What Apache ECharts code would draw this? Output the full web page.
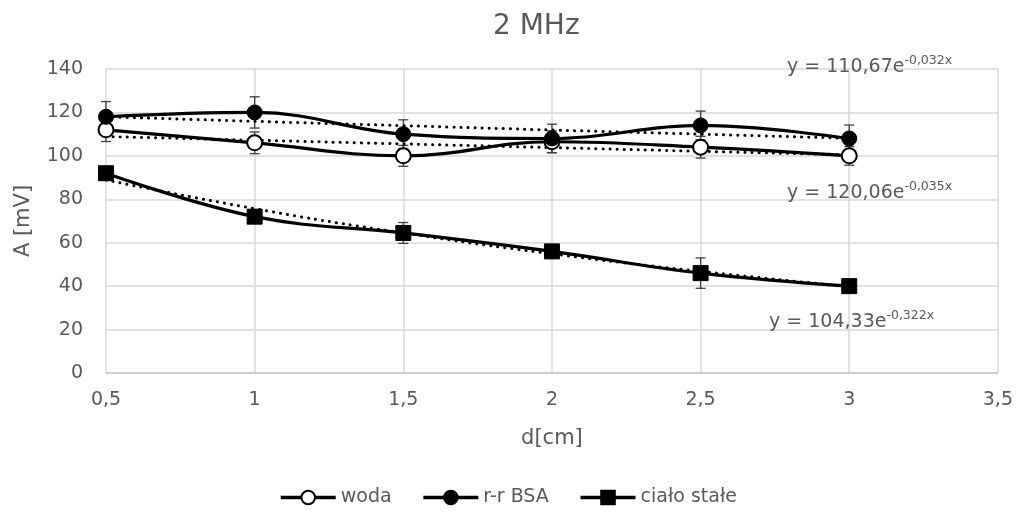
<!DOCTYPE html>
<html>
<head>
<meta charset="utf-8">
<script src="https://cdn.jsdelivr.net/npm/echarts@6/dist/echarts.min.js"></script>
<style>html,body{margin:0;padding:0;background:#fff}#c{width:1016px;height:523px}</style>
</head>
<body>
<div id="c"></div>
<script>
const xs = [0.5, 1, 1.5, 2, 2.5, 3];
const seriesNames = ['woda', 'r-r BSA', 'ciało stałe'];
const woda = [112, 106, 100, 106.5, 104, 100];
const bsa = [118, 120, 110, 108, 114, 108];
const cialo = [92, 72, 64.5, 56, 46, 40];
const wodaErr = [5.4, 5, 4.8, 5, 5, 4.3];
const bsaErr = [7, 7.2, 6.6, 6.6, 6.6, 6.2];
const cialoErr = [2, 2, 4.8, 2, 7, 1.5];
const wodaTrend = [108.9, 107.2, 105.5, 103.8, 102.1, 100.5];
const bsaTrend = [118.0, 115.9, 113.9, 111.9, 110.0, 108.1];
const cialoTrend = [88.9, 75.7, 64.5, 54.9, 46.8, 39.8];
const equations = [
  ['y = 110,67e', '-0,032x'],
  ['y = 120,06e', '-0,035x'],
  ['y = 104,33e', '-0,322x']
];
const xTicks = [0.5, 1, 1.5, 2, 2.5, 3, 3.5];
const yTicks = [0, 20, 40, 60, 80, 100, 120, 140];

const FONT = 'DejaVu Sans';
const GRAY = '#595959';
const pairs = (vals) => xs.map((x, i) => [x, vals[i]]);
const errData = (vals, errs) => xs.map((x, i) => [x, vals[i] - errs[i], vals[i] + errs[i]]);

function errRender(params, api) {
  const x = api.value(0);
  const lo = api.coord([x, api.value(1)]);
  const hi = api.coord([x, api.value(2)]);
  const w = 5;
  const st = { stroke: '#404040', lineWidth: 1.3 };
  return {
    type: 'group',
    children: [
      { type: 'line', shape: { x1: lo[0], y1: lo[1], x2: hi[0], y2: hi[1] }, style: st },
      { type: 'line', shape: { x1: lo[0] - w, y1: lo[1], x2: lo[0] + w, y2: lo[1] }, style: st },
      { type: 'line', shape: { x1: hi[0] - w, y1: hi[1], x2: hi[0] + w, y2: hi[1] }, style: st }
    ]
  };
}
function errSeries(vals, errs) {
  return { type: 'custom', renderItem: errRender, data: errData(vals, errs), z: 1, silent: true, encode: { x: 0, y: [1, 2] } };
}
function trendSeries(vals) {
  return {
    type: 'line', data: pairs(vals), smooth: true, symbol: 'none', silent: true, z: 2,
    lineStyle: { color: '#000', width: 3, type: [0.1, 7], cap: 'round' }
  };
}
function eqText(eq, left, top) {
  return {
    type: 'text', left: left, top: top, z: 10,
    style: {
      text: '{m|' + eq[0] + '}{s|' + eq[1] + '}',
      rich: {
        m: { fontFamily: FONT, fontSize: 19, fill: GRAY, color: GRAY },
        s: { fontFamily: FONT, fontSize: 12.5, fill: GRAY, color: GRAY, padding: [0, 0, 14, 0] }
      }
    }
  };
}

const chart = echarts.init(document.getElementById('c'));
chart.setOption({
  animation: false,
  textStyle: { fontFamily: FONT },
  title: {
    text: '2 MHz', left: 488, top: 8,
    textStyle: { fontFamily: FONT, fontSize: 28, fontWeight: 'normal', color: GRAY }
  },
  grid: { left: 106, right: 16, top: 69, bottom: 150, containLabel: false },
  xAxis: {
    type: 'value', min: 0.5, max: 3.5, interval: 0.5,
    name: 'd[cm]', nameLocation: 'middle', nameGap: 55,
    nameTextStyle: { fontFamily: FONT, fontSize: 21, color: GRAY },
    axisLine: { show: true, lineStyle: { color: '#c8c8c8', width: 1.5 } },
    axisTick: { show: false },
    splitLine: { show: true, lineStyle: { color: '#d9d9d9', width: 1.5 } },
    axisLabel: {
      fontFamily: FONT, fontSize: 19, color: GRAY, margin: 18,
      formatter: v => String(v).replace('.', ',')
    }
  },
  yAxis: {
    type: 'value', min: 0, max: 140, interval: 20,
    name: 'A [mV]', nameLocation: 'middle', nameGap: 72, nameRotate: 90,
    nameTextStyle: { fontFamily: FONT, fontSize: 21, color: GRAY },
    axisLine: { show: false }, axisTick: { show: false },
    splitLine: { show: true, lineStyle: { color: '#d9d9d9', width: 1.5 } },
    axisLabel: { fontFamily: FONT, fontSize: 19, color: GRAY, margin: 23 }
  },
  legend: {
    bottom: 11, left: 'center', itemWidth: 55, itemHeight: 17, itemGap: 30,
    data: seriesNames,
    lineStyle: { width: 3.5, color: '#000' },
    textStyle: { fontFamily: FONT, fontSize: 19, color: GRAY }
  },
  graphic: [
    eqText(equations[0], 787, 54),
    eqText(equations[1], 787, 180),
    eqText(equations[2], 769, 309)
  ],
  series: [
    trendSeries(wodaTrend), trendSeries(bsaTrend), trendSeries(cialoTrend),
    errSeries(woda, wodaErr), errSeries(bsa, bsaErr), errSeries(cialo, cialoErr),
    {
      name: seriesNames[0], type: 'line', data: pairs(woda), smooth: 0.4, z: 4,
      symbol: 'circle', symbolSize: 15,
      lineStyle: { color: '#000', width: 3.2 },
      itemStyle: { color: '#fff', borderColor: '#000', borderWidth: 2 }
    },
    {
      name: seriesNames[1], type: 'line', data: pairs(bsa), smooth: 0.4, z: 5,
      symbol: 'circle', symbolSize: 15,
      lineStyle: { color: '#000', width: 3.2 },
      itemStyle: { color: '#000', borderColor: '#000', borderWidth: 1 }
    },
    {
      name: seriesNames[2], type: 'line', data: pairs(cialo), smooth: 0.4, z: 5,
      symbol: 'rect', symbolSize: 15,
      lineStyle: { color: '#000', width: 3.2 },
      itemStyle: { color: '#000', borderColor: '#000', borderWidth: 1 }
    }
  ]
});
</script>
</body>
</html>
